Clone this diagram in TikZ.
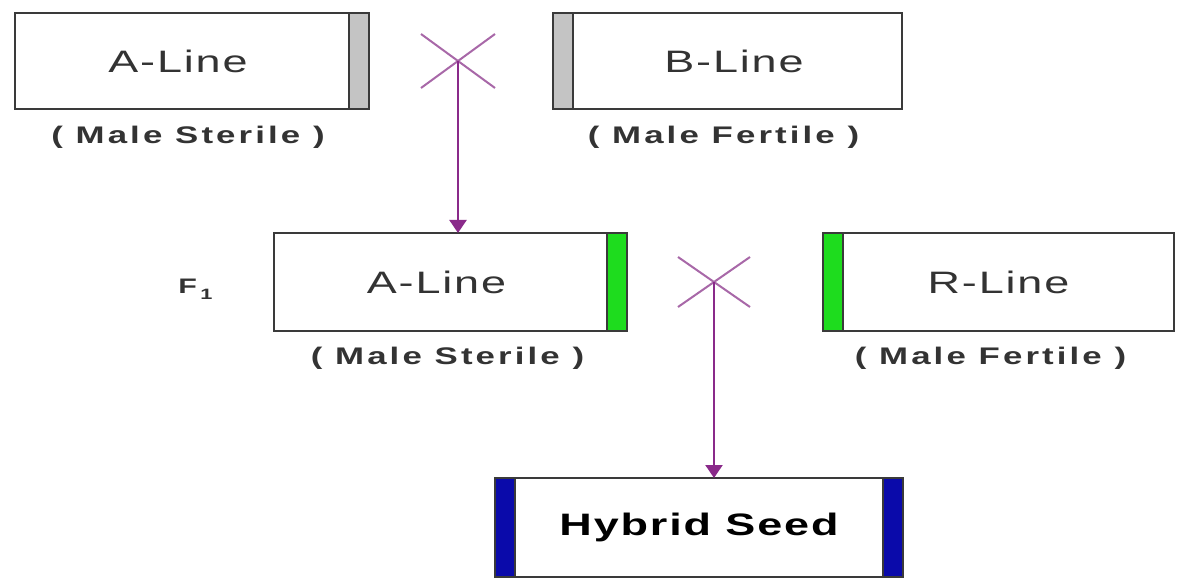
\documentclass[tikz,border=0pt]{standalone}
\usepackage{fontspec}
\setmainfont{Liberation Sans}
\newfontfamily\widesans[FakeStretch=1.45, LetterSpace=6]{Liberation Sans}
\newfontfamily\labelsans[FakeStretch=1.45, LetterSpace=13]{Liberation Sans}
\usetikzlibrary{positioning,arrows.meta}

\definecolor{boxline}{HTML}{3A3A3A}
\definecolor{txtgray}{HTML}{333333}
\definecolor{bargray}{HTML}{C4C4C4}
\definecolor{bargreen}{HTML}{1EDC1E}
\definecolor{barblue}{HTML}{0A0AAA}
\definecolor{crossline}{HTML}{A868A8}
\definecolor{arrowline}{HTML}{8A2A8A}

\begin{document}
\begin{tikzpicture}[x=1pt, y=-1pt,
    line/.style = {draw=boxline, line width=2.6pt, outer sep=0pt, fill=white,
                   minimum height=96pt, text=txtgray,
                   font=\widesans\fontsize{31}{36}\selectfont},
    sex/.style = {text=txtgray, inner sep=0pt, font=\labelsans\bfseries\fontsize{24}{28}\selectfont},
    cross/.style = {draw=crossline, line width=2pt},
    cross arrow/.style = {draw=arrowline, line width=2.2pt, -{Triangle[length=13pt,width=17pt]}}]
    \useasboundingbox (0,0) rectangle (1178,580);

    % parents
    \node[line, minimum width=354pt] (aline) at (192,61) {A-Line\hspace*{28pt}};
    \node[line, minimum width=349pt] (bline) at (727.5,61) {\hspace*{13pt}B-Line};
    \node[sex] (asex) [below=17pt of aline, xshift=-4pt] {( Male Sterile )};
    \node[sex] (bsex) [below=17pt of bline, xshift=-4pt] {( Male Fertile )};
    \draw[draw=boxline, line width=2.6pt, fill=bargray] ([xshift=-20pt]aline.north east) rectangle (aline.south east);
    \draw[draw=boxline, line width=2.6pt, fill=bargray] (bline.north west) rectangle ([xshift=20pt]bline.south west);

    % F1 generation
    \node[line, minimum width=353pt, minimum height=98pt] (fone) at (450.5,282) {A-Line\hspace*{28pt}};
    \node[line, minimum width=351pt, minimum height=98pt] (rline) at (998.5,282) {R-Line};
    \node[sex] (fonesex) [below=16pt of fone, xshift=-3pt] {( Male Sterile )};
    \node[sex] (rsex) [below=16pt of rline, xshift=-8pt] {( Male Fertile )};
    \node[text=txtgray, font=\widesans\bfseries\fontsize{21}{24}\selectfont] (gen) [left=58pt of fone, yshift=-7pt] {F\,\raisebox{-6pt}{\fontsize{15}{15}\selectfont 1}};
    \draw[draw=boxline, line width=2.6pt, fill=bargreen] ([xshift=-20pt]fone.north east) rectangle (fone.south east);
    \draw[draw=boxline, line width=2.6pt, fill=bargreen] (rline.north west) rectangle ([xshift=20pt]rline.south west);

    % hybrid
    \node[line, minimum width=408pt, minimum height=99pt, text=black,
          font=\widesans\bfseries\fontsize{31}{36}\selectfont] (hybrid) at (699,527.5) {Hybrid Seed};
    \draw[draw=boxline, line width=2.6pt, fill=barblue] (hybrid.north west) rectangle ([xshift=20pt]hybrid.south west);
    \draw[draw=boxline, line width=2.6pt, fill=barblue] ([xshift=-20pt]hybrid.north east) rectangle (hybrid.south east);

    % crosses
    \coordinate (x1) at (458,61);
    \coordinate (x2) at (714,282);
    \draw[cross] (x1) +(-37,-27) -- +(37,27) (x1) +(37,-27) -- +(-37,27);
    \draw[cross] (x2) +(-36,-25) -- +(36,25) (x2) +(36,-25) -- +(-36,25);
    \draw[cross arrow] (x1) -- (fone.north -| x1);
    \draw[cross arrow] (x2) -- (hybrid.north -| x2);
\end{tikzpicture}
\end{document}
